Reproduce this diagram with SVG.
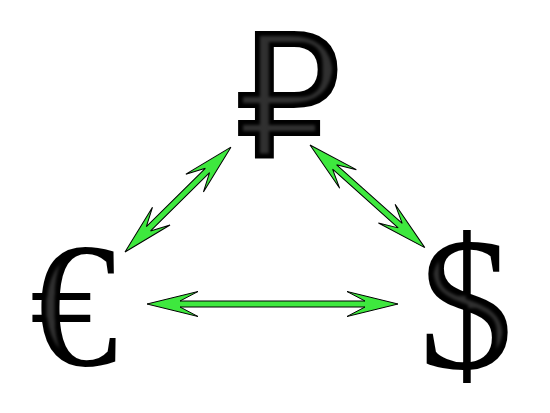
<svg xmlns="http://www.w3.org/2000/svg" width="550" height="413" viewBox="0 0 550 413">
<defs>
<filter id="metal" x="-25%" y="-25%" width="150%" height="150%" color-interpolation-filters="sRGB">
<feMorphology in="SourceAlpha" operator="erode" radius="5" result="e"/>
<feGaussianBlur in="e" stdDeviation="1.5" result="b"/>
<feColorMatrix in="b" type="matrix" values="0 0 0 0 0.85 0 0 0 0 0.85 0 0 0 0 0.85 0 0 0 0.22 0" result="g"/>
<feComposite in="g" in2="SourceAlpha" operator="in" result="gc"/>
<feMerge><feMergeNode in="SourceGraphic"/><feMergeNode in="gc"/></feMerge>
</filter>
<style>
.sym{fill:#000;filter:url(#metal);text-anchor:middle}
.arrow{fill:#3ee83e;stroke:#000;stroke-width:1;stroke-linejoin:miter}
</style>
</defs>
<rect width="550" height="413" fill="#fff"/>
<g id="connectors">
<path class="arrow" transform="translate(147,304)" d="M0,0 L51,-12.5 L33,-3 L218,-3 L200,-12.5 L251,0 L200,12.5 L218,3 L33,3 L51,12.5 Z"/>
<path class="arrow" transform="translate(125,252) rotate(-44.7)" d="M0,0 L51,-12.5 L33,-3 L116,-3 L98,-12.5 L149,0 L98,12.5 L116,3 L33,3 L51,12.5 Z"/>
<path class="arrow" transform="translate(310,145) rotate(41.8)" d="M0,0 L51,-12.5 L33,-3 L121,-3 L103,-12.5 L154,0 L103,12.5 L121,3 L33,3 L51,12.5 Z"/>
</g>
<g id="ruble"><text class="sym" x="288" y="157" font-family="DejaVu Sans, sans-serif" font-size="171" stroke="#000" stroke-width="2">₽</text></g>
<g id="euro"><text class="sym" x="74" y="365" font-family="Liberation Serif, serif" font-size="177">€</text></g>
<g id="dollar"><text class="sym" x="466" y="368" font-family="Liberation Serif, serif" font-size="190">$</text></g>
</svg>
